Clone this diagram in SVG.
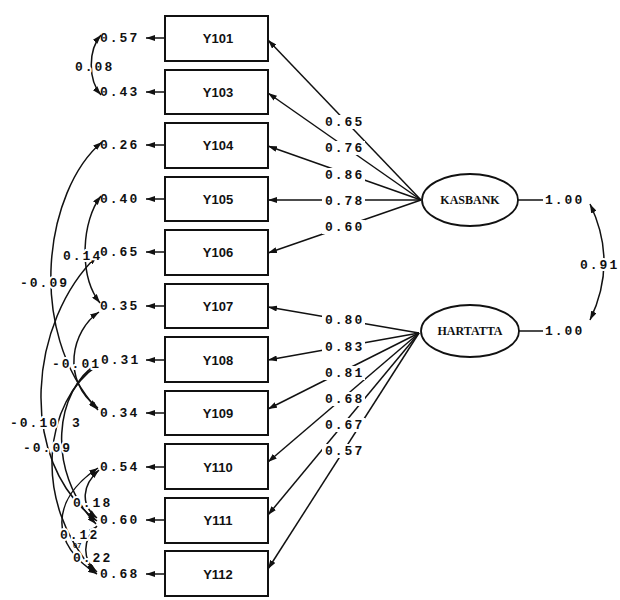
<svg xmlns="http://www.w3.org/2000/svg" width="620" height="600" viewBox="0 0 620 600">
<style>
.ln{fill:none;stroke:#111;stroke-width:1.5}
.box{fill:#fff;stroke:#111;stroke-width:2}
.ell{fill:#fff;stroke:#111;stroke-width:1.8}
.bg{fill:#fff}
.num{font-family:"Liberation Mono","DejaVu Sans Mono",monospace;font-size:13px;font-weight:bold;letter-spacing:2px;fill:#111}
.halo{stroke:#fff;stroke-width:4;stroke-linejoin:round;paint-order:stroke}
.var{font-family:"Liberation Sans",Arial,sans-serif;font-size:13px;font-weight:bold;text-anchor:middle;fill:#111}
.lat{font-family:"Liberation Serif","Times New Roman",serif;font-size:12px;font-weight:bold;text-anchor:middle;fill:#111}
</style>
<defs>
<marker id="ah" viewBox="0 0 9 6" refX="9" refY="3" markerWidth="9" markerHeight="6" markerUnits="userSpaceOnUse" orient="auto-start-reverse">
<path d="M0,0 L9,3 L0,6 z" fill="#111"/>
</marker>
</defs>
<rect width="620" height="600" fill="#fff"/>
<g id="connectors">
<line class="ln" x1="421" y1="200" x2="268" y2="40" marker-end="url(#ah)"/>
<line class="ln" x1="421" y1="200" x2="268" y2="93" marker-end="url(#ah)"/>
<line class="ln" x1="421" y1="200" x2="268" y2="146" marker-end="url(#ah)"/>
<line class="ln" x1="421" y1="200" x2="268" y2="200" marker-end="url(#ah)"/>
<line class="ln" x1="421" y1="200" x2="268" y2="253" marker-end="url(#ah)"/>
<line class="ln" x1="419" y1="333" x2="268" y2="307" marker-end="url(#ah)"/>
<line class="ln" x1="419" y1="333" x2="268" y2="360" marker-end="url(#ah)"/>
<line class="ln" x1="419" y1="333" x2="268" y2="409" marker-end="url(#ah)"/>
<line class="ln" x1="419" y1="333" x2="268" y2="462" marker-end="url(#ah)"/>
<line class="ln" x1="419" y1="333" x2="268" y2="515" marker-end="url(#ah)"/>
<line class="ln" x1="419" y1="333" x2="268" y2="569" marker-end="url(#ah)"/>
<line class="ln" x1="518" y1="200" x2="543" y2="200"/>
<line class="ln" x1="519" y1="331" x2="543" y2="331"/>
<path class="ln" d="M590 204 Q618 262 590 320" marker-start="url(#ah)" marker-end="url(#ah)"/>
<line class="ln" x1="165" y1="38" x2="146" y2="38" marker-end="url(#ah)"/>
<line class="ln" x1="165" y1="92" x2="146" y2="92" marker-end="url(#ah)"/>
<line class="ln" x1="165" y1="145" x2="146" y2="145" marker-end="url(#ah)"/>
<line class="ln" x1="165" y1="199" x2="146" y2="199" marker-end="url(#ah)"/>
<line class="ln" x1="165" y1="252" x2="146" y2="252" marker-end="url(#ah)"/>
<line class="ln" x1="165" y1="306" x2="146" y2="306" marker-end="url(#ah)"/>
<line class="ln" x1="165" y1="360" x2="146" y2="360" marker-end="url(#ah)"/>
<line class="ln" x1="165" y1="413" x2="146" y2="413" marker-end="url(#ah)"/>
<line class="ln" x1="165" y1="467" x2="146" y2="467" marker-end="url(#ah)"/>
<line class="ln" x1="165" y1="520" x2="146" y2="520" marker-end="url(#ah)"/>
<line class="ln" x1="165" y1="574" x2="146" y2="574" marker-end="url(#ah)"/>
<path class="ln" d="M101 35 C88 50 88 80 101 95" marker-start="url(#ah)" marker-end="url(#ah)"/>
<path class="ln" d="M102 142 C45 190 25 330 98 410" marker-start="url(#ah)" marker-end="url(#ah)"/>
<path class="ln" d="M101 196 C82 220 78 275 100 303" marker-start="url(#ah)" marker-end="url(#ah)"/>
<path class="ln" d="M97 256 C30 320 15 460 97 521" marker-start="url(#ah)" marker-end="url(#ah)"/>
<path class="ln" d="M99 312 C72 330 60 380 98 408" marker-start="url(#ah)" marker-end="url(#ah)"/>
<path class="ln" d="M98 363 C55 390 45 470 96 524" marker-end="url(#ah)"/>
<path class="ln" d="M98 365 C45 400 30 500 95 572" marker-end="url(#ah)"/>
<path class="ln" d="M99 470 C82 485 80 505 97 518" marker-start="url(#ah)" marker-end="url(#ah)"/>
<path class="ln" d="M98 468 C50 500 50 545 97 574" marker-start="url(#ah)" marker-end="url(#ah)"/>
<path class="ln" d="M97 526 C82 540 82 560 97 572" marker-start="url(#ah)" marker-end="url(#ah)"/>
</g>
<g id="labels">
<rect class="bg" x="322" y="115" width="43" height="14"/>
<rect class="bg" x="322" y="141" width="43" height="14"/>
<rect class="bg" x="322" y="168" width="43" height="14"/>
<rect class="bg" x="322" y="194" width="43" height="14"/>
<rect class="bg" x="322" y="220" width="43" height="14"/>
<rect class="bg" x="322" y="313" width="43" height="14"/>
<rect class="bg" x="322" y="340" width="43" height="14"/>
<rect class="bg" x="322" y="366" width="43" height="14"/>
<rect class="bg" x="322" y="392" width="43" height="14"/>
<rect class="bg" x="322" y="418" width="43" height="14"/>
<rect class="bg" x="322" y="444" width="43" height="14"/>
<text class="num" x="325" y="126">0.65</text>
<text class="num" x="325" y="152">0.76</text>
<text class="num" x="325" y="179">0.86</text>
<text class="num" x="325" y="205">0.78</text>
<text class="num" x="325" y="231">0.60</text>
<text class="num" x="325" y="324">0.80</text>
<text class="num" x="325" y="351">0.83</text>
<text class="num" x="325" y="377">0.81</text>
<text class="num" x="325" y="403">0.68</text>
<text class="num" x="325" y="429">0.67</text>
<text class="num" x="325" y="455">0.57</text>
<text class="num" x="545" y="204">1.00</text>
<text class="num" x="545" y="335">1.00</text>
<text class="num halo" x="580" y="269">0.91</text>
<text class="num halo" x="75" y="71">0.08</text>
<text class="num halo" x="20" y="287">-0.09</text>
<text class="num halo" x="63" y="260">0.14</text>
<text class="num halo" x="10" y="427">-0.10</text>
<text class="num halo" x="72" y="427">3</text>
<text class="num halo" x="23" y="452">-0.09</text>
<text class="num halo" x="73" y="507">0.18</text>
<text class="num halo" x="60" y="539">0.12</text>
<text class="num" x="73" y="548" style="font-size:7px;letter-spacing:0">07</text>
<text class="num halo" x="73" y="562">0.22</text>
</g>
<g id="errors">
<text class="num" x="100" y="42">0.57</text>
<text class="num" x="100" y="96">0.43</text>
<text class="num" x="100" y="149">0.26</text>
<text class="num" x="100" y="203">0.40</text>
<text class="num" x="100" y="256">0.65</text>
<text class="num" x="100" y="310">0.35</text>
<text class="num" x="101" y="364">0.31</text>
<text class="num halo" x="52" y="368">-0.01</text>
<text class="num" x="100" y="417">0.34</text>
<text class="num" x="100" y="471">0.54</text>
<text class="num" x="100" y="524">0.60</text>
<text class="num" x="100" y="578">0.68</text>
</g>
<g id="Y101"><rect class="box" x="165" y="16" width="103" height="45"/><text class="var" x="218" y="43">Y101</text></g>
<g id="Y103"><rect class="box" x="165" y="70" width="103" height="44"/><text class="var" x="218" y="97">Y103</text></g>
<g id="Y104"><rect class="box" x="165" y="123" width="103" height="45"/><text class="var" x="218" y="150">Y104</text></g>
<g id="Y105"><rect class="box" x="165" y="177" width="103" height="44"/><text class="var" x="218" y="204">Y105</text></g>
<g id="Y106"><rect class="box" x="165" y="230" width="103" height="45"/><text class="var" x="218" y="257">Y106</text></g>
<g id="Y107"><rect class="box" x="165" y="284" width="103" height="44"/><text class="var" x="218" y="311">Y107</text></g>
<g id="Y108"><rect class="box" x="165" y="337" width="103" height="45"/><text class="var" x="218" y="365">Y108</text></g>
<g id="Y109"><rect class="box" x="165" y="391" width="103" height="44"/><text class="var" x="218" y="418">Y109</text></g>
<g id="Y110"><rect class="box" x="165" y="444" width="103" height="45"/><text class="var" x="218" y="472">Y110</text></g>
<g id="Y111"><rect class="box" x="165" y="498" width="103" height="45"/><text class="var" x="218" y="525">Y111</text></g>
<g id="Y112"><rect class="box" x="165" y="551" width="103" height="45"/><text class="var" x="218" y="579">Y112</text></g>
<g id="KASBANK"><ellipse class="ell" cx="470" cy="200" rx="48" ry="26"/><text class="lat" x="470" y="204">KASBANK</text></g>
<g id="HARTATTA"><ellipse class="ell" cx="470" cy="331" rx="49" ry="26"/><text class="lat" x="470" y="335">HARTATTA</text></g>
</svg>
